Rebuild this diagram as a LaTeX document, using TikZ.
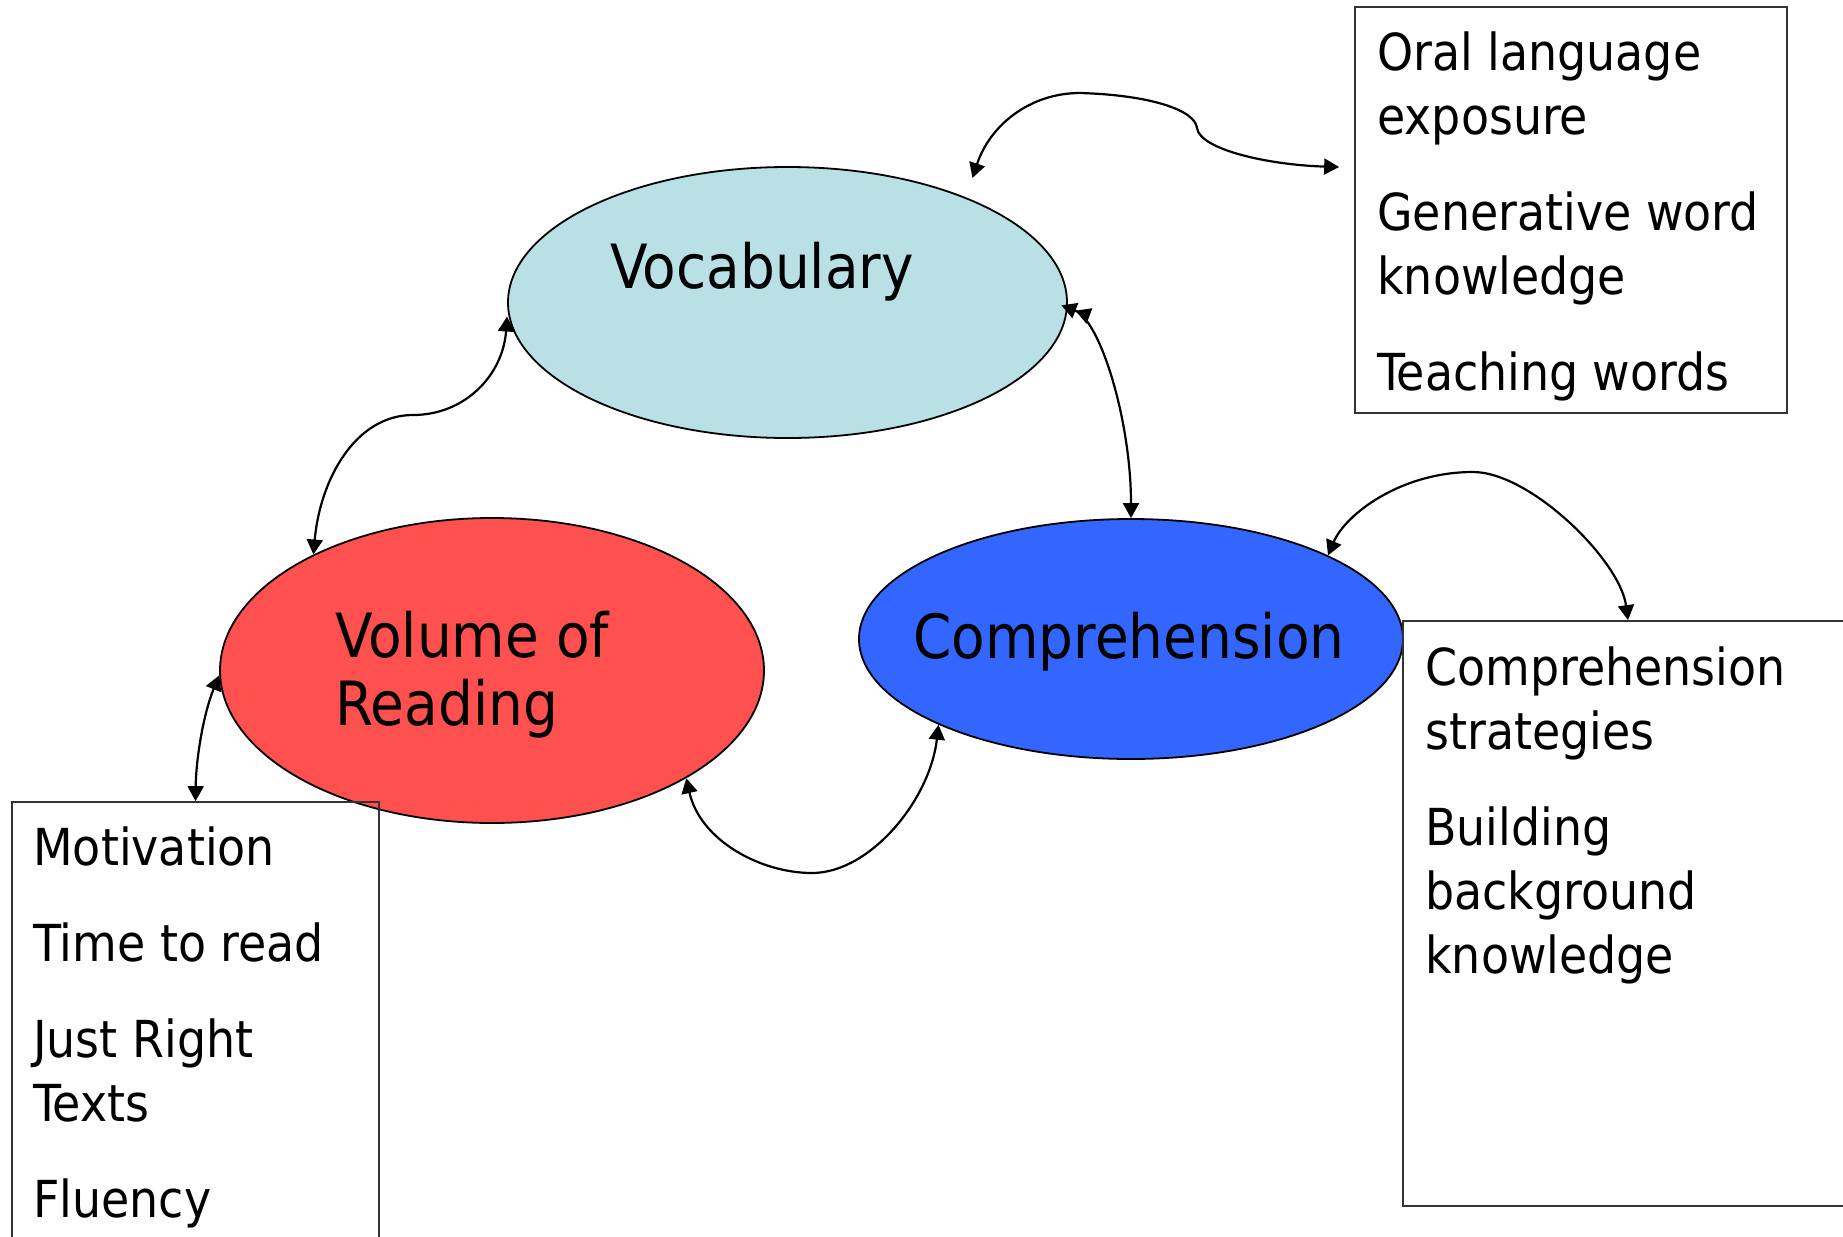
\documentclass[tikz,border=0pt]{standalone}
\usepackage{fontspec}
\setmainfont{DejaVu Sans Condensed}
\usepackage{tikz}
\usetikzlibrary{positioning,arrows.meta,shapes.geometric}

\definecolor{vocabblue}{RGB}{185,224,228}
\definecolor{volumered}{RGB}{255,80,80}
\definecolor{comprblue}{RGB}{51,102,255}

\newcommand{\listfont}{\fontsize{25.5pt}{32pt}\selectfont}
\newcommand{\bubblefont}{\fontsize{30.5pt}{34pt}\selectfont}

\begin{document}
\begin{tikzpicture}[
    x=0.5pt, y=-0.5pt,
    bubble/.style={
        ellipse,
        draw,
        line width=0.9pt,
        inner sep=0pt
    },
    listbox/.style={
        rectangle,
        draw=black!80,
        line width=0.85pt,
        inner sep=0pt
    },
    listtext/.style={
        align=left,
        anchor=base west,
        inner sep=0pt,
        font=\listfont
    },
    bubbletext/.style={
        inner sep=0pt,
        font=\bubblefont
    },
    link/.style={
        {Triangle[length=7.5pt,width=8pt]}-{Triangle[length=7.5pt,width=8pt]},
        line width=1.1pt
    }
]
\useasboundingbox (0,0) rectangle (1843,1237);
\clip (0,0) rectangle (1843,1237);

% Ellipses
\node[bubble, fill=vocabblue, minimum width=279.5pt, minimum height=135.5pt]
    (vocab) at (787.5,302.5) {};
\node[bubble, fill=volumered, minimum width=272pt, minimum height=152.5pt]
    (volume) at (492,670.5) {};
\node[bubble, fill=comprblue, minimum width=272pt, minimum height=120pt]
    (compr) at (1131,639) {};

% (base = last line)
\node[bubbletext, anchor=base] (vocablabel) at (762,288) {Vocabulary};
\node[bubbletext, anchor=base west, align=left] (volumelabel) at (335,725)
{Volume of\\
Reading};
\node[bubbletext, anchor=base] (comprlabel) at (1129,658) {Comprehension};

% Boxes
\node[listbox, minimum width=216pt, minimum height=203pt] (oral) at (1571,210) {};
\node[listbox, minimum width=225pt, minimum height=292.5pt] (strat) at (1628,913.5) {};
\node[listbox, minimum width=183.5pt, minimum height=239pt] (motiv) at (195.5,1041) {};

\node[listtext] (oraltext) at (1377,390)
{Oral language\\
exposure\\[16pt]
Generative word\\
knowledge\\[16pt]
Teaching words};

\node[listtext] (strattext) at (1425,973)
{Comprehension\\
strategies\\[16pt]
Building\\
background\\
knowledge};

\node[listtext] (motivtext) at (33,1217)
{Motivation\\[16pt]
Time to read\\[16pt]
Just Right\\
Texts\\[16pt]
Fluency};

% Connections
\draw[link] ([yshift=11pt]vocab.29)
    .. controls (990,125) and (1030,93) .. (1080,93)
    .. controls (1150,95) and (1195,110) .. (1197,128)
    .. controls (1200,150) and (1270,165) .. ([xshift=-7.5pt,yshift=21.5pt]oral.west);

\draw[line width=1.1pt,
      {Triangle[length=7.5pt,width=8pt,sep=4pt]Triangle[length=7.5pt,width=8pt]}-{Triangle[length=7.5pt,width=8pt]}]
    ([xshift=-7pt]vocab.east)
    .. controls (1100,320) and (1131,420) .. (compr.north);

\draw[link] ([yshift=-7pt]vocab.west)
    .. controls (503,375) and (465,415) .. (413,415)
    .. controls (355,415) and (320,480) .. (volume.147);

\draw[link] (volume.181)
    .. controls (203,715) and (196,760) .. (motiv.north);

\draw[link] (volume.331)
    .. controls (700,840) and (760,873) .. (812,873)
    .. controls (870,873) and (930,800) .. (compr.204);

\draw[link] (compr.23)
    .. controls (1345,515) and (1400,472) .. (1473,472)
    .. controls (1530,472) and (1620,560) .. (strat.north);

\end{tikzpicture}
\end{document}
